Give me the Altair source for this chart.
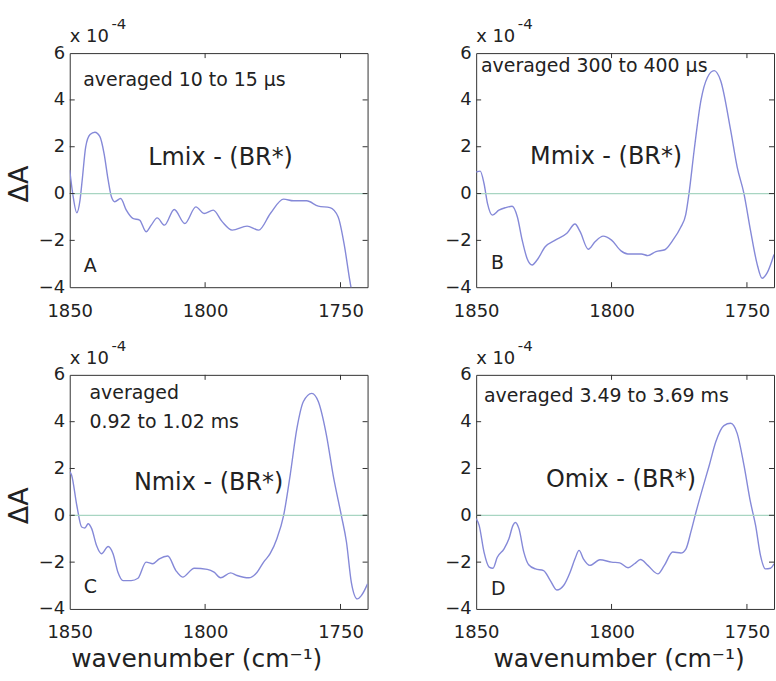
import altair as alt
import pandas as pd

FONT = "DejaVu Sans"
TEXT = "#222222"
LINE = "#8589d8"
ZERO = "#a8d5c2"
BORDER = "#333333"

X_TICKS = [1850, 1800, 1750]
Y_TICKS = [-4, -2, 0, 2, 4, 6]
X_INNER = [1800, 1750]
Y_INNER = [-2, 0, 2, 4]
X_MIN, X_MAX = 1740, 1850
Y_MIN, Y_MAX = -4, 6

# Panel A: Lmix - (BR*)
A_WN = [1850, 1848.9, 1847.4, 1846.2, 1845.4, 1844.1, 1842.5, 1840.7, 1838.9, 1837.3,
        1835.8, 1834.6, 1833.4, 1831.2, 1829.1, 1826.7, 1824.2, 1821.8, 1819.9, 1817.7,
        1815, 1811.4, 1807.5, 1803.4, 1800.4, 1797, 1793.7, 1790, 1784.5, 1780.2,
        1775.9, 1771, 1767.4, 1762.5, 1758.2, 1753.9, 1750.9, 1748.5, 1746.6, 1745.2]
A_VAL = [1.0, 0.0, -0.82, -0.28, 0.57, 1.99, 2.52, 2.62, 2.44, 1.70,
         0.57, -0.14, -0.35, -0.21, -0.71, -1.06, -1.13, -1.63, -1.35, -1.04,
         -1.35, -0.68, -1.28, -0.57, -0.85, -0.71, -1.2, -1.56, -1.39, -1.56,
         -0.85, -0.24, -0.31, -0.31, -0.54, -0.6, -0.99, -2.27, -3.69, -4.6]

# Panel B: Mmix - (BR*)
B_WN = [1850, 1848.5, 1847.1, 1845.8, 1844, 1841.6, 1839.1, 1836.7, 1834.8, 1833,
        1831.2, 1829.3, 1827.5, 1824.5, 1820.8, 1816.5, 1813.5, 1811.6, 1808.6, 1806.1,
        1803.1, 1800, 1796.5, 1794, 1789, 1786.6, 1783.6, 1780.3, 1777.4, 1774.5,
        1772.6, 1771.4, 1769.5, 1767, 1764.6, 1762.1, 1759.7, 1756, 1753.6, 1751.1,
        1748.7, 1746.3, 1744.4, 1742.6, 1740]
B_VAL = [0.92, 0.96, 0.43, -0.43, -0.92, -0.71, -0.6, -0.54, -0.99, -1.99,
         -2.77, -3.05, -2.84, -2.27, -1.99, -1.70, -1.30, -1.63, -2.38, -2.06,
         -1.82, -1.99, -2.45, -2.58, -2.58, -2.65, -2.48, -2.4, -2.0, -1.45,
         -0.9, 0.0, 1.84, 3.97, 4.96, 5.25, 4.82, 2.70, 1.13, 0.0,
         -1.56, -2.98, -3.62, -3.40, -2.6]

# Panel C: Nmix - (BR*)
C_WN = [1850, 1849.3, 1847.4, 1845.6, 1844.4, 1843.2, 1841.9, 1840.1, 1838.3, 1835.8,
        1834, 1832.2, 1830.3, 1827.3, 1824.8, 1821.8, 1819.3, 1816.9, 1813.8, 1810.8,
        1808.3, 1804, 1799.2, 1796.7, 1794.3, 1790.6, 1788.2, 1783.9, 1780.8, 1778.4,
        1776, 1773.5, 1771, 1768.6, 1766.1, 1763.7, 1760.6, 1758.2, 1755.2, 1752.7,
        1749.7, 1747.8, 1746, 1743.8, 1742.3, 1740]
C_VAL = [1.86, 1.71, 0.43, -0.5, -0.54, -0.36, -0.57, -1.29, -1.64, -1.33,
         -1.64, -2.43, -2.79, -2.79, -2.69, -2.0, -2.07, -1.86, -1.74, -2.36,
         -2.64, -2.26, -2.31, -2.43, -2.67, -2.46, -2.57, -2.67, -2.43, -2.0,
         -1.64, -1.0, 0.0, 1.71, 3.71, 4.86, 5.21, 4.86, 3.43, 1.71,
         0.0, -1.14, -2.86, -3.57, -3.43, -2.93]

# Panel D: Omix - (BR*)
D_WN = [1850, 1848.9, 1847.1, 1845.2, 1843.8, 1842.2, 1839.7, 1837.9, 1836.4, 1835.5,
        1834.2, 1832.4, 1830.6, 1828.1, 1825.1, 1822.6, 1820.2, 1817.7, 1815.3, 1813.5,
        1812, 1810.4, 1808, 1804.3, 1800, 1797, 1793.9, 1791.5, 1789.3, 1786.6,
        1782.9, 1780.5, 1777.4, 1774.4, 1772.5, 1770.7, 1768.8, 1766.4, 1763.9, 1761.5,
        1758.5, 1756, 1753.6, 1751.1, 1748.7, 1746.8, 1745, 1743.2, 1741.3, 1740]
D_VAL = [-0.14, -0.43, -1.57, -2.21, -2.26, -1.79, -1.43, -1.0, -0.43, -0.31,
         -0.57, -1.57, -2.11, -2.29, -2.36, -2.79, -3.19, -3.0, -2.43, -1.86,
         -1.5, -1.86, -2.14, -1.9, -2.0, -2.03, -2.24, -2.07, -1.89, -2.14,
         -2.5, -2.14, -1.57, -1.61, -1.43, -0.71, 0.14, 1.14, 2.14, 3.14,
         3.83, 3.93, 3.5, 2.14, 0.57, -0.43, -1.71, -2.29, -2.26, -2.07]

# Annotation texts and their positions in data units
NOTES = [["averaged 10 to 15 μs"], ["averaged 300 to 400 μs"],
         ["averaged", "0.92 to 1.02 ms"], ["averaged 3.49 to 3.69 ms"]]
NOTE_X = [1845.0, 1848.2, 1842.7, 1847.1]
NOTE_Y = [[4.85], [5.46], [5.22, 4.0], [5.09]]
NAMES = ["Lmix - (BR*)", "Mmix - (BR*)", "Nmix - (BR*)", "Omix - (BR*)"]
NAME_X = [1794.3, 1802.0, 1798.7, 1796.5]
NAME_Y = [1.5, 1.55, 1.36, 1.49]
LETTERS = ["A", "B", "C", "D"]
LETTER_X = [1844.8, 1844.5, 1844.8, 1844.5]
LETTER_Y = [-3.1, -2.97, -3.06, -3.15]
# axis multiplier "x 10^-4" above each panel
MULT_BASE = ("x 10", 1850.0, 6.68)
MULT_EXP = ("-4", 1834.6, 7.25)

W, H = 299, 235

xscale = alt.Scale(domain=[X_MIN, X_MAX], reverse=True, nice=False, zero=False)
yscale = alt.Scale(domain=[Y_MIN, Y_MAX], nice=False, zero=False)


def panel(i, wn, val, ytitle, xtitle, xtitle_x):
    xaxis = alt.Axis(values=X_TICKS, format="d", labelPadding=15,
                     title=xtitle, titleX=xtitle_x, titlePadding=5, titleFontSize=25)
    yaxis = alt.Axis(values=Y_TICKS, format="d", labelPadding=5,
                     title=ytitle, titleFontSize=27, titleX=-50, titleY=131,
                     titleBaseline="middle")

    def X(field):
        return alt.X(field, scale=xscale, axis=xaxis)

    def Y(field):
        return alt.Y(field, scale=yscale, axis=yaxis)

    df = pd.DataFrame({"wn": wn, "val": val, "i": list(range(len(wn)))})
    line = alt.Chart(df).mark_line(color=LINE, strokeWidth=1.4,
                                   interpolate="monotone", clip=True).encode(
        x=X("wn:Q"), y=Y("val:Q"), order=alt.Order("i:Q"))
    zero = alt.Chart(pd.DataFrame({"val": [0]})).mark_rule(
        color=ZERO, strokeWidth=1.3).encode(y=Y("val:Q"))

    xt = pd.DataFrame({"wn": X_INNER})
    yt = pd.DataFrame({"val": Y_INNER})
    t_top = alt.Chart(xt).mark_rule(color=BORDER, strokeWidth=1).encode(
        x=X("wn:Q"), y=alt.value(0), y2=alt.value(5))
    t_bot = alt.Chart(xt).mark_rule(color=BORDER, strokeWidth=1).encode(
        x=X("wn:Q"), y=alt.value(H), y2=alt.value(H - 5))
    t_left = alt.Chart(yt).mark_rule(color=BORDER, strokeWidth=1).encode(
        y=Y("val:Q"), x=alt.value(0), x2=alt.value(5))
    t_right = alt.Chart(yt).mark_rule(color=BORDER, strokeWidth=1).encode(
        y=Y("val:Q"), x=alt.value(W), x2=alt.value(W - 5))

    def text_layer(rows, align, size):
        tdf = pd.DataFrame(rows, columns=["wn", "val", "label"])
        return alt.Chart(tdf).mark_text(
            align=align, baseline="middle", font=FONT, fontSize=size, color=TEXT
        ).encode(x=X("wn:Q"), y=Y("val:Q"), text="label:N")

    notes = text_layer([(NOTE_X[i], ny, t) for t, ny in zip(NOTES[i], NOTE_Y[i])], "left", 19)
    name = text_layer([(NAME_X[i], NAME_Y[i], NAMES[i])], "center", 24)
    letter = text_layer([(LETTER_X[i], LETTER_Y[i], LETTERS[i])], "left", 19)
    mult = text_layer([(MULT_BASE[1], MULT_BASE[2], MULT_BASE[0])], "left", 18)
    mexp = text_layer([(MULT_EXP[1], MULT_EXP[2], MULT_EXP[0])], "left", 15)

    return alt.layer(line, zero, t_top, t_bot, t_left, t_right,
                     notes, name, letter, mult, mexp).properties(width=W, height=H)


pA = panel(0, A_WN, A_VAL, "ΔA", None, 0)
pB = panel(1, B_WN, B_VAL, None, None, 0)
pC = panel(2, C_WN, C_VAL, "ΔA", "wavenumber (cm⁻¹)", 127)
pD = panel(3, D_WN, D_VAL, None, "wavenumber (cm⁻¹)", 143)

chart = alt.concat(pA, pB, pC, pD, columns=2,
                   spacing={"row": 88, "column": 109}, bounds="flush").properties(
    padding={"left": 5, "top": 15, "right": 0, "bottom": 0},
    background="white",
).configure_view(
    stroke=BORDER, strokeWidth=1
).configure_axis(
    labelFont=FONT, labelFontSize=18, labelColor=TEXT,
    titleFont=FONT, titleColor=TEXT, titleFontWeight="normal",
    domain=False, ticks=False, grid=False, labelFlush=False, labelOverlap=False,
)

chart.save("out.html", embed_options={"renderer": "svg", "actions": False})
